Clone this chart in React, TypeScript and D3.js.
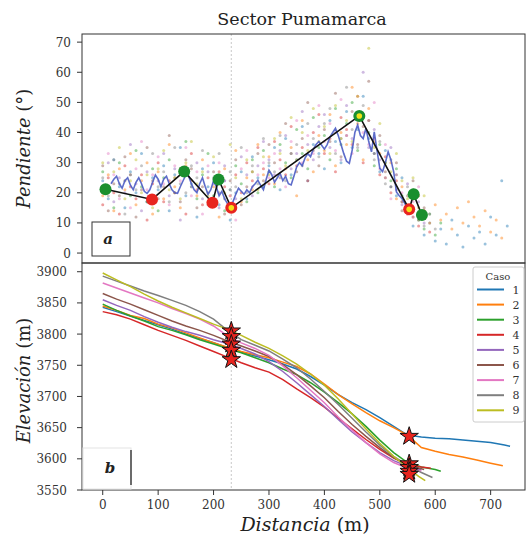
import React from "react";
import * as d3 from "d3";

// ---- data ----
const caseNames = ["1", "2", "3", "4", "5", "6", "7", "8", "9"];
const caseColors = ["#1f77b4", "#ff7f0e", "#2ca02c", "#d62728", "#9467bd", "#8c564b", "#e377c2", "#7f7f7f", "#bcbd22"];

// slope samples per case, one every 10 m from 0 m
const slopeStep = 10;
const slope1 = [24, 18, 31, 22, 15, 27, 20, 33, 17, 25, 21, 29, 14, 26, 35, 19, 23, 12, 28, 22, 30, 16, 24, 11, 20, 27, 18, 32, 25, 22, 29, 35, 21, 38, 26, 31, 42, 24, 36, 33, 28, 44, 37, 30, 47, 35, 41, 52, 38, 33, 27, 34, 22, 19, 25, 14, 9, 12, 6, 10, 4, 8, 3, 11, 6, 2, 9, 5, 7, 3, 12, 6, 24, 9];
const slope2 = [19, 26, 14, 28, 21, 33, 16, 24, 30, 13, 27, 18, 36, 22, 15, 29, 24, 19, 31, 17, 22, 12, 28, 19, 34, 17, 25, 21, 36, 26, 32, 23, 40, 28, 35, 19, 44, 31, 27, 39, 34, 46, 29, 40, 36, 55, 43, 31, 48, 37, 33, 25, 30, 18, 22, 16, 12, 19, 14, 10, 16, 11, 13, 8, 15, 10, 17, 12, 9, 14, 7, 11, 5];
const slope3 = [27, 21, 15, 30, 24, 19, 34, 22, 17, 28, 14, 25, 31, 20, 27, 37, 22, 18, 26, 33, 19, 25, 14, 21, 29, 23, 17, 31, 20, 34, 27, 22, 36, 30, 25, 41, 33, 28, 45, 35, 39, 31, 48, 36, 43, 50, 34, 45, 40, 29, 36, 30, 24, 28, 19, 15, 21, 11, 8, 13, 6, 10];
const slope4 = [16, 25, 20, 13, 29, 22, 18, 26, 11, 23, 30, 17, 24, 20, 28, 13, 33, 21, 16, 25, 18, 27, 22, 15, 26, 20, 30, 24, 35, 28, 23, 37, 31, 26, 42, 29, 35, 24, 40, 46, 33, 38, 27, 45, 41, 36, 52, 30, 44, 38, 26, 32, 20, 24, 17, 13, 18, 9, 14, 7];
const slope5 = [22, 30, 17, 25, 20, 36, 23, 14, 27, 19, 24, 33, 19, 28, 11, 26, 22, 30, 18, 27, 23, 15, 29, 21, 18, 32, 26, 19, 29, 37, 31, 26, 34, 39, 28, 33, 47, 36, 31, 42, 46, 35, 40, 31, 49, 38, 44, 60, 35, 41, 31, 25, 35, 21, 16, 23, 12, 17, 10];
const slope6 = [29, 14, 23, 19, 32, 26, 12, 21, 35, 24, 18, 22, 39, 25, 17, 31, 28, 15, 22, 20, 27, 20, 13, 24, 31, 16, 22, 27, 33, 24, 36, 30, 25, 43, 33, 27, 38, 50, 34, 29, 41, 37, 53, 32, 39, 47, 36, 42, 57, 33, 39, 27, 22, 30, 14, 19, 24, 11, 15];
const slope7 = [20, 33, 26, 18, 24, 15, 28, 37, 21, 26, 32, 23, 16, 29, 24, 35, 19, 27, 13, 29, 16, 30, 24, 19, 11, 28, 34, 22, 26, 30, 25, 33, 28, 22, 37, 44, 30, 39, 33, 49, 37, 43, 34, 51, 39, 33, 45, 40, 36, 50, 28, 36, 18, 26, 20, 13, 17, 22, 12];
const slope8 = [25, 19, 31, 23, 13, 26, 21, 29, 17, 33, 22, 27, 17, 35, 23, 20, 29, 25, 34, 16, 25, 33, 18, 27, 22, 35, 20, 29, 23, 38, 30, 27, 39, 24, 33, 36, 29, 43, 38, 32, 43, 48, 33, 38, 55, 41, 35, 49, 44, 31, 37, 23, 31, 26, 17, 22, 14, 19, 9, 13, 8];
const slope9 = [30, 22, 27, 35, 18, 24, 31, 20, 26, 15, 28, 34, 21, 25, 18, 30, 37, 23, 27, 19, 32, 26, 20, 36, 25, 18, 31, 27, 21, 32, 26, 38, 33, 29, 45, 31, 40, 34, 48, 37, 42, 33, 49, 38, 44, 37, 52, 46, 68, 35, 43, 30, 27, 33, 24, 18, 25, 15, 19];
const slopes = [slope1, slope2, slope3, slope4, slope5, slope6, slope7, slope8, slope9];

// smoothed mean slope, one value every 5 m from 15 m
const meanStart = 15;
const meanStep = 5;
const meanSlope = [23, 24.5, 25.5, 23, 21.5, 24, 25, 22.5, 21, 23.5, 25, 23, 20.5, 19.8,
  21, 23.5, 25.9, 24.5, 22, 24.5, 25.5, 23, 21, 20, 19.8, 22, 24, 25.9, 25.5, 23, 21, 20, 23, 25, 22, 19.5, 21, 24, 22, 19, 20.5, 18, 16.5, 15.9,
  17, 19.5, 21.5, 20.5, 19.5, 21, 20, 22, 23, 24.2, 22.5, 21, 24.5, 27.5, 26, 23.5, 25, 26.5, 24, 25.5, 23, 22.6, 25.5, 28.6, 30, 29, 31.5, 33, 32, 34.5, 36, 37, 35.8, 34.5, 36, 38.5, 40, 41.4, 39, 36, 33, 30.5, 29.8, 34, 40, 42.5, 39, 38, 41.4, 37, 33.6, 40.2, 34, 28.1, 27, 30, 33.6, 31, 27, 20.3, 19, 18.1, 16.5, 15, 14.5];

// break points of the slope trend (distance, slope, kind)
const breakDist = [5, 89, 147, 198, 209, 232, 463, 553, 561, 576];
const breakSlope = [21.2, 17.8, 27.1, 16.7, 24.4, 15.0, 45.5, 14.5, 19.5, 12.6];
const breakKind = ["g", "r", "g", "r", "g", "ry", "gy", "ry", "g", "g"];

// elevation profiles, [distance m, elevation m]
const prof1 = [[0, 3843], [25, 3836], [50, 3829], [75, 3822], [100, 3815], [125, 3808], [150, 3800], [175, 3793], [200, 3786], [225, 3778], [250, 3771], [275, 3765], [300, 3759], [325, 3752], [350, 3744], [375, 3732], [400, 3718], [425, 3703], [450, 3690], [475, 3679], [500, 3666], [525, 3652], [550, 3638], [575, 3635], [600, 3633], [625, 3632], [650, 3630], [675, 3628], [700, 3626], [725, 3622], [735, 3620]];
const prof2 = [[0, 3845], [25, 3838], [50, 3830], [75, 3825], [100, 3816], [125, 3810], [150, 3802], [175, 3794], [200, 3786], [225, 3779], [250, 3772], [275, 3767], [300, 3762], [325, 3755], [350, 3748], [375, 3736], [400, 3720], [425, 3703], [450, 3688], [475, 3674], [500, 3661], [525, 3650], [550, 3638], [575, 3618], [600, 3612], [625, 3607], [650, 3603], [675, 3598], [700, 3593], [722, 3589]];
const prof3 = [[0, 3848], [25, 3838], [50, 3829], [75, 3821], [100, 3812], [125, 3806], [150, 3799], [175, 3791], [200, 3784], [225, 3777], [250, 3770], [275, 3762], [300, 3754], [325, 3744], [350, 3735], [375, 3722], [400, 3707], [425, 3690], [450, 3672], [475, 3652], [500, 3630], [525, 3610], [550, 3594], [575, 3587], [600, 3583], [610, 3580]];
const prof4 = [[0, 3836], [25, 3831], [50, 3824], [75, 3815], [100, 3806], [125, 3798], [150, 3790], [175, 3781], [200, 3772], [225, 3763], [250, 3754], [275, 3746], [300, 3739], [325, 3727], [350, 3712], [375, 3698], [400, 3683], [425, 3665], [450, 3648], [475, 3631], [500, 3615], [525, 3601], [550, 3591], [575, 3587], [592, 3585]];
const prof5 = [[0, 3855], [25, 3846], [50, 3838], [75, 3828], [100, 3819], [125, 3811], [150, 3804], [175, 3798], [200, 3791], [225, 3785], [250, 3777], [275, 3768], [300, 3756], [325, 3740], [350, 3722], [375, 3703], [400, 3684], [425, 3663], [450, 3643], [475, 3626], [500, 3610], [525, 3597], [550, 3588], [575, 3582]];
const prof6 = [[0, 3865], [25, 3856], [50, 3848], [75, 3839], [100, 3830], [125, 3821], [150, 3813], [175, 3806], [200, 3798], [225, 3789], [250, 3781], [275, 3773], [300, 3764], [325, 3751], [350, 3735], [375, 3717], [400, 3698], [425, 3676], [450, 3655], [475, 3636], [500, 3618], [525, 3602], [550, 3590], [580, 3583]];
const prof7 = [[0, 3882], [25, 3874], [50, 3866], [75, 3858], [100, 3850], [125, 3841], [150, 3833], [175, 3824], [200, 3813], [225, 3797], [250, 3786], [275, 3777], [300, 3766], [325, 3749], [350, 3730], [375, 3710], [400, 3690], [425, 3667], [450, 3646], [475, 3626], [500, 3608], [525, 3594], [550, 3585], [575, 3580]];
const prof8 = [[0, 3893], [25, 3885], [50, 3877], [75, 3869], [100, 3862], [125, 3854], [150, 3846], [175, 3836], [200, 3824], [225, 3806], [250, 3791], [275, 3782], [300, 3773], [325, 3760], [350, 3746], [375, 3728], [400, 3708], [425, 3687], [450, 3665], [475, 3643], [500, 3622], [525, 3604], [550, 3590], [575, 3578], [595, 3570]];
const prof9 = [[0, 3898], [25, 3887], [50, 3876], [75, 3864], [100, 3853], [125, 3843], [150, 3834], [175, 3825], [200, 3816], [225, 3808], [250, 3798], [275, 3787], [300, 3777], [325, 3765], [350, 3752], [375, 3736], [400, 3718], [425, 3696], [450, 3672], [475, 3648], [500, 3625], [525, 3604], [550, 3586], [570, 3572], [582, 3565]];
const profiles = [prof1, prof2, prof3, prof4, prof5, prof6, prof7, prof8, prof9];

// break stars on profiles
const starDist = [232, 232, 232, 232, 232, 553, 553, 553, 553, 553];
const starElev = [3805, 3796, 3784, 3774, 3759, 3636, 3592, 3586, 3580, 3575];
const breakLineDist = 232;

const slopeTicks = [0, 10, 20, 30, 40, 50, 60, 70];
const elevTicks = [3550, 3600, 3650, 3700, 3750, 3800, 3850, 3900];
const distTicks = [0, 100, 200, 300, 400, 500, 600, 700];

const W = 527;
const H = 538;
const left = 82;
const right = 525;
const top1 = 34;
const bot1 = 263;
const top2 = 263;
const bot2 = 490;
const serif = "'DejaVu Serif', 'Liberation Serif', serif";

export default function App() {
  const x = d3.scaleLinear().domain([-37.4, 762]).range([left, right]);
  const yS = d3.scaleLinear().domain([-3.3, 72.7]).range([bot1, top1]);
  const yE = d3.scaleLinear().domain([3550, 3914]).range([bot2, top2]);

  const meanLine = d3
    .line<number>()
    .x((d, i) => x(meanStart + i * meanStep))
    .y(d => yS(d));
  const trendLine = d3
    .line<number>()
    .x((d, i) => x(breakDist[i]))
    .y(d => yS(d));
  const profLine = d3
    .line<number[]>()
    .x(d => x(d[0]))
    .y(d => yE(d[1]));
  const star = d3.symbol().type(d3.symbolStar).size(105)();
  const tf = { fontFamily: serif };

  return (
    <svg width={W} height={H} style={{ position: "absolute", left: 0, top: 0, background: "#fff" }}>
      <text x={302} y={25} textAnchor="middle" fontSize={17.5} fill="#222" style={tf}>Sector Pumamarca</text>

      {/* ---- top panel: slopes ---- */}
      <g>
        {slopes.map((arr, k) =>
          arr.map((v, i) => (
            <circle key={k + "-" + i} cx={x(i * slopeStep)} cy={yS(v)} r={1.5} fill={caseColors[k]} opacity={0.45} />
          ))
        )}
        <line x1={x(breakLineDist)} x2={x(breakLineDist)} y1={top1} y2={bot2} stroke="#bbb" strokeWidth={0.8} strokeDasharray="2,2" />
        <path d={meanLine(meanSlope) || ""} fill="none" stroke="#4b5cc4" strokeWidth={1.6} opacity={0.9} />
        <path d={trendLine(breakSlope) || ""} fill="none" stroke="#111" strokeWidth={1.6} />
        {breakSlope.map((v, i) => {
          const kind = breakKind[i];
          const outer = kind[0] === "g" ? "#1a8f2e" : "#e8251f";
          return (
            <g key={"b" + i}>
              <circle cx={x(breakDist[i])} cy={yS(v)} r={6} fill={outer} />
              {kind.length > 1 && <circle cx={x(breakDist[i])} cy={yS(v)} r={2.8} fill="#f3e21a" />}
            </g>
          );
        })}
        <rect x={left} y={top1} width={right - left} height={bot1 - top1} fill="none" stroke="#333" strokeWidth={1} />
        {slopeTicks.map(t => (
          <g key={"st" + t}>
            <line x1={left - 5} x2={left} y1={yS(t)} y2={yS(t)} stroke="#333" />
            <text x={71} y={yS(t) + 4.5} textAnchor="end" fontSize={12} fill="#333" style={tf}>{t}</text>
          </g>
        ))}
        <rect x={92} y={222} width={38} height={34} fill="#fff" stroke="#333" strokeWidth={1} />
        <text x={108} y={244} textAnchor="middle" fontSize={15} fontWeight="bold" fontStyle="italic" fill="#222" style={tf}>a</text>
        <text transform={`translate(30,${(top1 + bot1) / 2}) rotate(-90)`} textAnchor="middle" fontSize={18} fill="#222" style={tf}>
          <tspan fontStyle="italic">Pendiente</tspan> (°)
        </text>
      </g>

      {/* ---- bottom panel: elevation profiles ---- */}
      <g>
        {profiles.map((p, k) => (
          <path key={"p" + k} d={profLine(p) || ""} fill="none" stroke={caseColors[k]} strokeWidth={1.5} />
        ))}
        {starElev.map((v, i) => (
          <path key={"s" + i} d={star || ""} transform={`translate(${x(starDist[i])},${yE(v)})`} fill="#e8251f" stroke="#111" strokeWidth={1} />
        ))}
        <rect x={left} y={top2} width={right - left} height={bot2 - top2} fill="none" stroke="#333" strokeWidth={1} />
        {elevTicks.map(t => (
          <g key={"et" + t}>
            <line x1={left - 5} x2={left} y1={yE(t)} y2={yE(t)} stroke="#333" />
            <text x={67} y={yE(t) + 4.5} textAnchor="end" fontSize={12} fill="#333" style={tf}>{t}</text>
          </g>
        ))}
        {distTicks.map(t => (
          <g key={"dt" + t}>
            <line x1={x(t)} x2={x(t)} y1={bot2} y2={bot2 + 5} stroke="#333" />
            <text x={x(t)} y={bot2 + 19} textAnchor="middle" fontSize={12} fill="#333" style={tf}>{t}</text>
          </g>
        ))}
        <rect x={left + 1} y={448} width={48} height={41} fill="#fff" stroke="#e4e4e4" strokeWidth={1} />
        <line x1={131} x2={131} y1={450} y2={485} stroke="#222" strokeWidth={1.3} />
        <text x={110} y={473} textAnchor="middle" fontSize={15} fontWeight="bold" fontStyle="italic" fill="#222" style={tf}>b</text>
        <text transform={`translate(30,${(top2 + bot2) / 2 + 4}) rotate(-90)`} textAnchor="middle" fontSize={18} fill="#222" style={tf}>
          <tspan fontStyle="italic">Elevación</tspan> (m)
        </text>
        <text x={305} y={531} textAnchor="middle" fontSize={19} fill="#222" style={tf}>
          <tspan fontStyle="italic">Distancia</tspan> (m)
        </text>

        {/* legend */}
        <rect x={473} y={267} width={51} height={155} rx={2} fill="#fff" fillOpacity={0.85} stroke="#ccc" strokeWidth={1} />
        <text x={498} y={280} textAnchor="middle" fontSize={10} fill="#333" style={tf}>Caso</text>
        {caseNames.map((n, i) => (
          <g key={"l" + n}>
            <line x1={477} x2={504} y1={289.5 + i * 15.1} y2={289.5 + i * 15.1} stroke={caseColors[i]} strokeWidth={2} />
            <text x={516} y={293.5 + i * 15.1} textAnchor="middle" fontSize={11} fill="#333" style={tf}>{n}</text>
          </g>
        ))}
      </g>
    </svg>
  );
}
